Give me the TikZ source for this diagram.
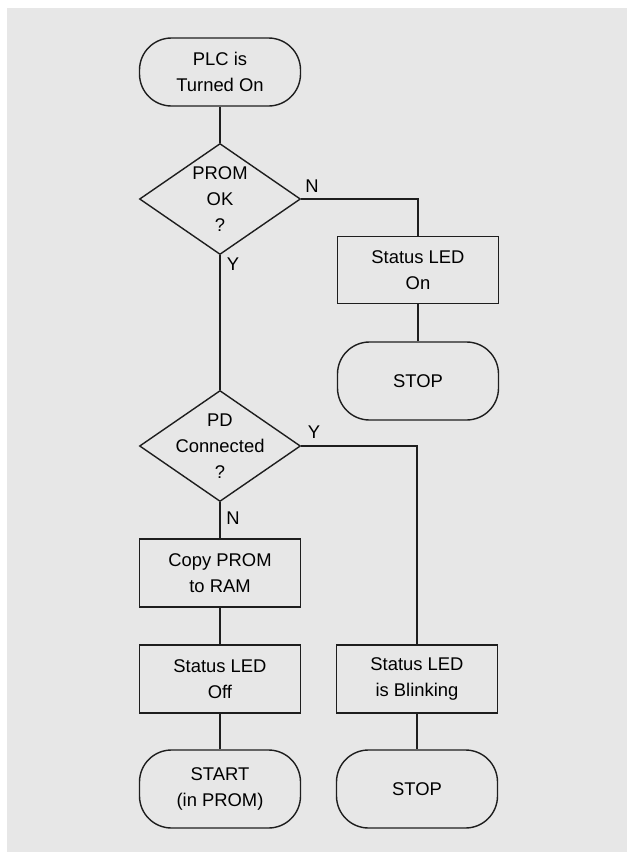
\documentclass[tikz,border=0pt]{standalone}
\usepackage{fontspec}
\setmainfont{Liberation Sans}
\usetikzlibrary{shapes.geometric}
\definecolor{panelgray}{RGB}{231,231,231}
\definecolor{inkgray}{RGB}{30,30,30}

\begin{document}
\begin{tikzpicture}[
  x=1pt, y=-1pt,
  font=\fontsize{18.4}{26}\selectfont,
  terminal/.style={rectangle, rounded corners=32pt, draw=inkgray, line width=1.4pt, minimum width=161pt, align=center},
  process/.style={rectangle, draw=inkgray, line width=1.4pt, minimum width=161pt, minimum height=68pt, align=center},
  decision/.style={diamond, aspect=1.45, inner sep=-8pt, draw=inkgray, line width=1.4pt, minimum width=161pt, minimum height=111pt, align=center},
  line/.style={draw=inkgray, line width=1.4pt},
  answer/.style={inner sep=0pt}
]

  % Panel
  \useasboundingbox (0,0) rectangle (627,852);
  \fill[panelgray] (7,8) rectangle (627,852);

  % Steps
  \node[terminal, minimum height=68pt] (poweron) at (220,72) {PLC is\\Turned On};
  \node[decision] (promok) at (220,199) {PROM\\OK\\?};
  \node[process, minimum height=67pt] (ledon) at (418,270) {Status LED\\On};
  \node[terminal, minimum height=78pt] (stopa) at (418,381) {STOP};
  \node[decision] (pdconn) at (220,446) {PD\\Connected\\?};
  \node[process] (copyram) at (220,573) {Copy PROM\\to RAM};
  \node[process] (ledoff) at (220,679) {Status LED\\Off};
  \node[process] (ledblink) at (417,679) {Status LED\\is Blinking};
  \node[terminal, minimum height=78pt] (startprom) at (220,789) {START\\(in PROM)};
  \node[terminal, minimum height=78pt] (stopb) at (417,789) {STOP};

  % Answers
  \node[answer] (promno) at (312,186) {N};
  \node[answer] (promyes) at (233,264) {Y};
  \node[answer] (pdyes) at (314,432) {Y};
  \node[answer] (pdno) at (233,518) {N};

  % Flow
  \draw[line] (poweron) -- (promok);
  \draw[line] (promok.east) -| (ledon);
  \draw[line] (ledon) -- (stopa);
  \draw[line] (promok) -- (pdconn);
  \draw[line] (pdconn.east) -| (ledblink);
  \draw[line] (pdconn) -- (copyram);
  \draw[line] (copyram) -- (ledoff);
  \draw[line] (ledoff) -- (startprom);
  \draw[line] (ledblink) -- (stopb);

\end{tikzpicture}
\end{document}
